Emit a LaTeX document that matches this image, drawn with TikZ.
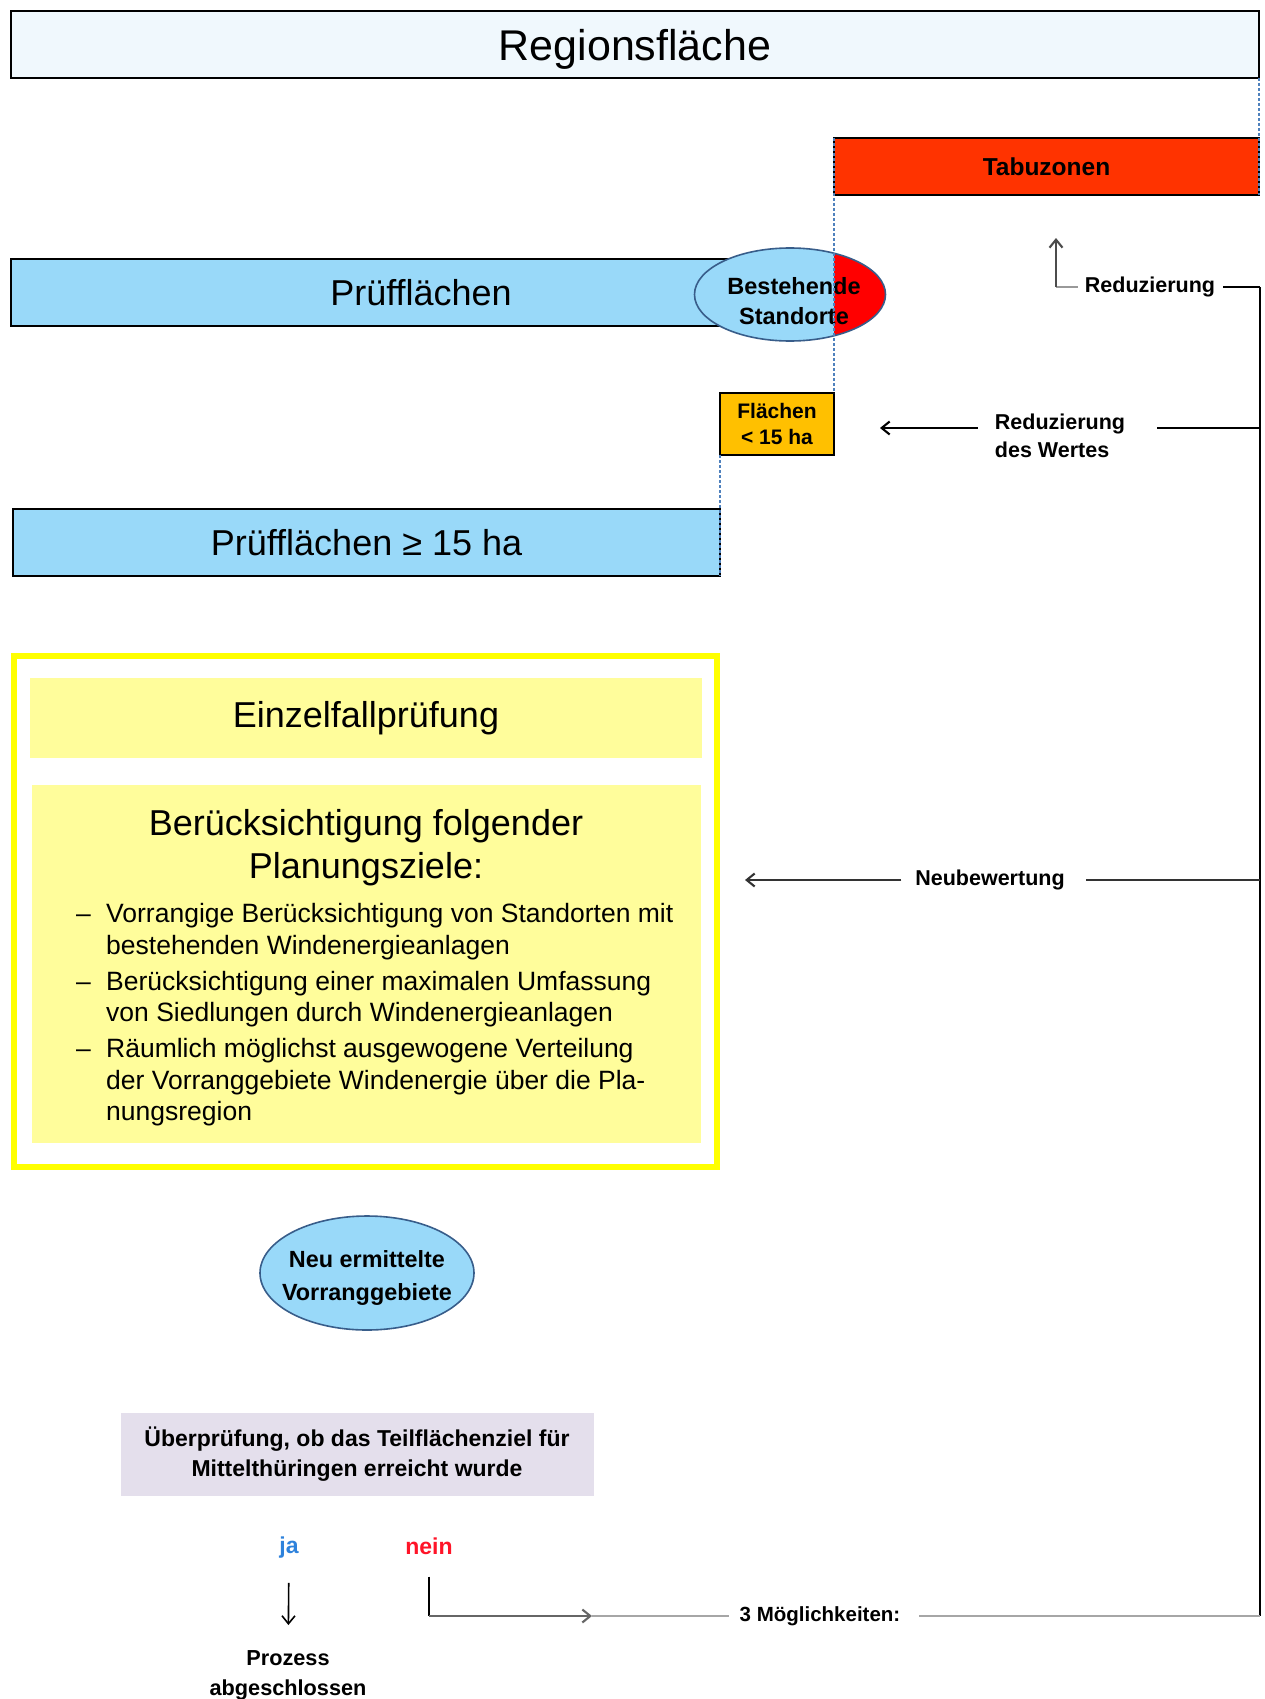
\documentclass[tikz,border=0pt]{standalone}
\usepackage{fontspec}
\setmainfont{Liberation Sans}
\usepackage{tikz}
\usetikzlibrary{arrows.meta,shapes.geometric}

\definecolor{regionblau}{RGB}{240,248,253}
\definecolor{pruefblau}{RGB}{153,217,249}
\definecolor{taburot}{RGB}{255,51,0}
\definecolor{bestandrot}{RGB}{255,0,0}
\definecolor{ellipsenrand}{RGB}{56,93,138}
\definecolor{flaechengelb}{RGB}{255,192,0}
\definecolor{rahmengelb}{RGB}{255,255,0}
\definecolor{zielgelb}{RGB}{255,253,155}
\definecolor{pruefviolett}{RGB}{228,223,236}
\definecolor{strichblau}{RGB}{79,129,189}
\definecolor{jablau}{RGB}{46,130,220}
\definecolor{neinrot}{RGB}{255,20,40}

\newcommand{\schrift}[2]{\fontsize{#1}{#2}\selectfont}

\begin{document}
\begin{tikzpicture}[x=1pt, y=-1pt,
  >={Straight Barb[length=8pt,width=13pt]},
  kasten/.style={draw, line width=1.6pt, inner sep=0pt, outer sep=0pt},
  oval/.style={ellipse, draw=ellipsenrand, line width=1.6pt, fill=pruefblau, inner sep=0pt, outer sep=0pt},
  marke/.style={font=\bfseries\schrift{21.5}{28}, inner sep=0pt, outer sep=0pt, align=left},
  teiler/.style={strichblau, line width=1.2pt, dash pattern=on 3pt off 2pt},
  linie/.style={line width=2.1pt}]

\useasboundingbox (0,0) rectangle (1264,1699);

% flaechen oben

\node[kasten, fill=regionblau, minimum width=1248pt, minimum height=67pt, text depth=0pt, font=\schrift{43}{50}] (region) at (635,44.5) {Regionsfläche};
\node[kasten, fill=taburot, minimum width=425pt, minimum height=57pt, font=\bfseries\schrift{24.5}{30}] (tabu) at (1046.5,166.5) {Tabuzonen};
\node[kasten, fill=pruefblau, minimum width=820pt, minimum height=67pt, font=\schrift{36}{43}] (pruef) at (421,292.5) {Prüfflächen};
\node[oval, minimum width=191pt, minimum height=93pt,
  path picture={\fill[bestandrot] ([xshift=44pt]path picture bounding box.north) rectangle (path picture bounding box.south east);}] (bestand) at (790,294.5) {};
\node[font=\bfseries\schrift{23.5}{30}, align=center, inner sep=0pt] (bestandtext) at (794,301) {Bestehende\\Standorte};
\node[kasten, fill=flaechengelb, minimum width=114pt, minimum height=62pt, font=\bfseries\schrift{21}{26}, align=center] (flaechen) at (777,424) {Flächen\\< 15 ha};
\node[kasten, fill=pruefblau, minimum width=707pt, minimum height=67pt, font=\schrift{36}{43}] (pruef15) at (366.5,542.5) {Prüfflächen ≥ 15 ha};

% einzelfallpruefung

\node[draw=rahmengelb, line width=5.5pt, minimum width=703pt, minimum height=511pt, inner sep=0pt, outer sep=0pt] (rahmen) at (365.5,911.5) {};
\node[fill=zielgelb, minimum width=672pt, minimum height=80pt, inner sep=0pt, font=\schrift{36}{43}] (einzel) at (366,718) {Einzelfallprüfung};
\node[fill=zielgelb, minimum width=669pt, minimum height=358pt, inner sep=0pt] (ziele) at (366.5,964) {};
\node[font=\schrift{36}{43}, align=center, inner sep=0pt] (zieletitel) at (366,848) {Berücksichtigung folgender\\Planungsziele:};
\node[font=\schrift{26.5}{31.5}, anchor=base west, inner sep=0pt] (zieleliste) at (76,922.5) {%
  \begin{tabular}[t]{@{}l@{}l@{}}
  \makebox[30pt][l]{–} & Vorrangige Berücksichtigung von Standorten mit\\
  & bestehenden Windenergieanlagen\\[4.5pt]
  \makebox[30pt][l]{–} & Berücksichtigung einer maximalen Umfassung\\
  & von Siedlungen durch Windenergieanlagen\\[4.5pt]
  \makebox[30pt][l]{–} & Räumlich möglichst ausgewogene Verteilung\\
  & der Vorranggebiete Windenergie über die Pla-\\
  & nungsregion
  \end{tabular}};

% ergebnis

\node[oval, minimum width=214pt, minimum height=114pt] (neu) at (367,1273) {};
\node[font=\bfseries\schrift{23.4}{32.5}, align=center, inner sep=0pt] (neutext) at (367,1278) {Neu ermittelte\\Vorranggebiete};
\node[fill=pruefviolett, minimum width=473pt, minimum height=83pt, inner sep=0pt, align=center, font=\bfseries\schrift{23}{30}] (ueberpruef) at (357,1454) {Überprüfung, ob das Teilflächenziel für\\Mittelthüringen erreicht wurde};
\node[text=jablau, font=\bfseries\schrift{23}{28}, inner sep=0pt] (ja) at (289,1548) {ja};
\node[text=neinrot, font=\bfseries\schrift{23}{28}, inner sep=0pt] (nein) at (429,1546) {nein};
\node[font=\bfseries\schrift{21.7}{30}, align=center, inner sep=0pt] (prozess) at (288,1675) {Prozess\\abgeschlossen};

% beschriftungen rechts

\node[marke] (reduz) at (1150,287) {Reduzierung};
\node[marke] (wert) at (1060,436) {Reduzierung\\des Wertes};
\node[marke] (neubew) at (990,880) {Neubewertung};
\node[marke, font=\bfseries\schrift{20.5}{26}] (moeglich) at (820,1616) {3 Möglichkeiten:};

\coordinate (eckeunten) at (1260,1616);
\coordinate (eckeoben) at (1260,287);
\coordinate (abzweigwert) at (1260,428);
\coordinate (abzweigneu) at (1260,880);
\coordinate (reduzknick) at (1056,287);
\coordinate (reduzpfeil) at (1056,238);
\coordinate (neinknick) at (429,1616);
\coordinate (neinpfeil) at (592,1616);

% trennlinien
\draw[teiler] (region.south east) -- (tabu.south east);
\draw[teiler] (tabu.north west) -- (flaechen.north east);
\draw[teiler] (flaechen.south west) -- (pruef15.south east);

% rueckfuehrung
\draw[linie] (eckeunten) -- (eckeoben);
\draw[linie, shorten >=8pt] (eckeoben) -- (reduz.east);
\draw[linie, black!40, shorten <=7pt] (reduz.west) -- (reduzknick);
\draw[linie, ->, black!70] (reduzknick) -- (reduzpfeil);

\draw[linie, shorten >=32pt] (abzweigwert) -- (abzweigwert -| wert.east);
\draw[linie, ->, shorten <=17pt, shorten >=46pt] (abzweigwert -| wert.west) -- (abzweigwert -| flaechen.east);

\draw[linie, black!80, shorten >=21pt] (abzweigneu) -- (neubew.east);
\draw[linie, black!80, ->, shorten <=14pt, shorten >=28pt] (neubew.west) -- (abzweigneu -| rahmen.east);

% ja / nein
\draw[line width=1.6pt, ->, shorten <=24pt, shorten >=25pt] (ja) -- (prozess);
\draw[line width=1.6pt, shorten <=22pt] (nein) -- (neinknick);
\draw[linie, black!60, ->] (neinknick) -- (neinpfeil);
\draw[linie, black!35, shorten >=11pt] (neinpfeil) -- (moeglich.west);
\draw[linie, black!35, shorten <=19pt] (moeglich.east) -- (eckeunten);

\end{tikzpicture}
\end{document}
